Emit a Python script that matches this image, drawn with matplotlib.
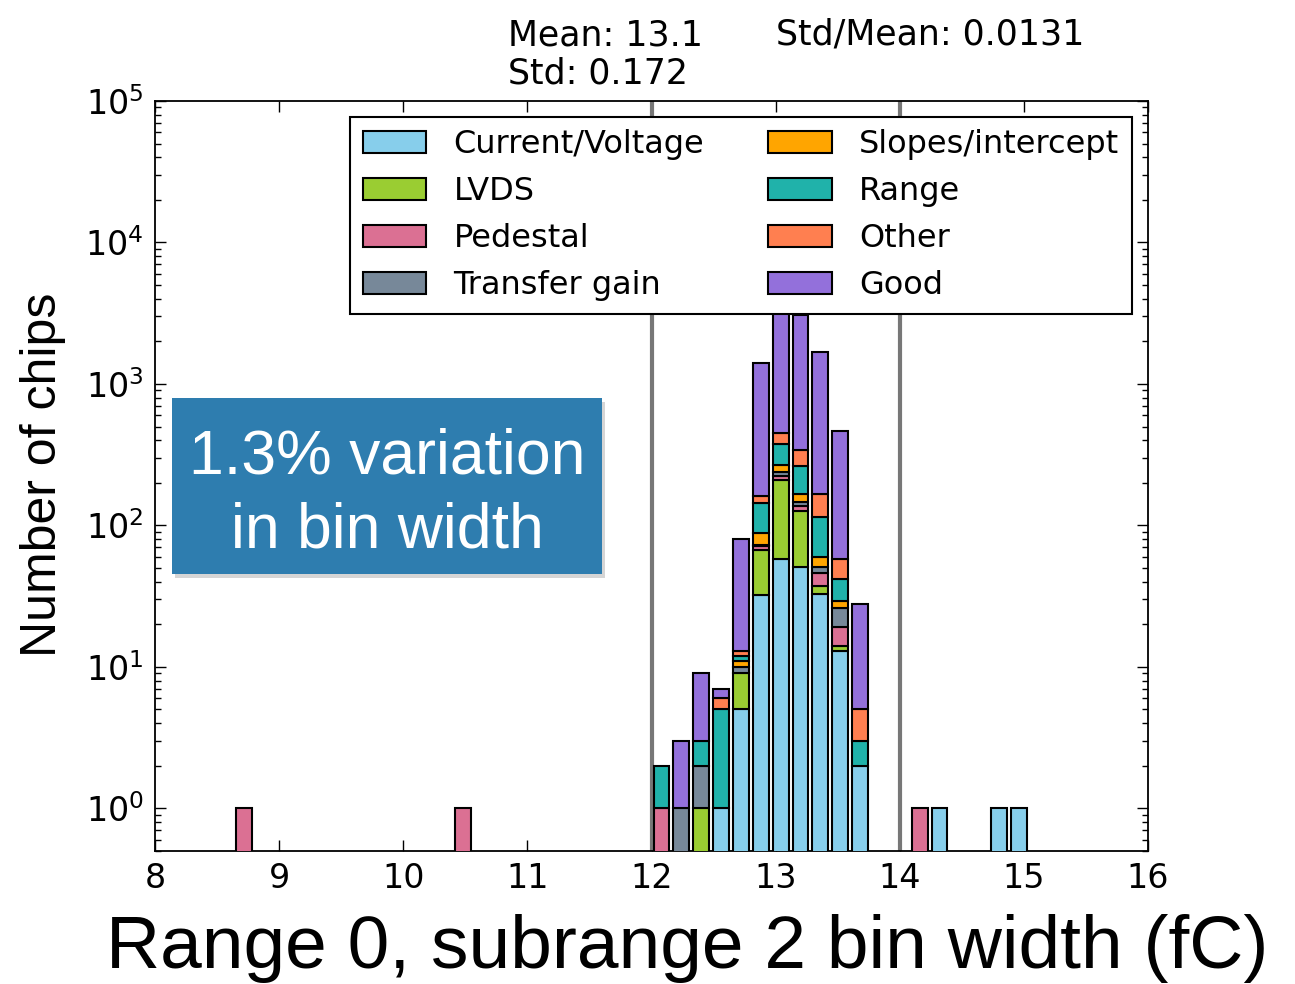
import numpy as np
import matplotlib
matplotlib.use("Agg")
import matplotlib.pyplot as plt
from matplotlib.patches import Rectangle

# left edges of the occupied bins (bin width 0.16 fC, range 8-16)
bin_left = [8.64, 10.40, 12.00, 12.16, 12.32, 12.48, 12.64, 12.80, 12.96,
            13.12, 13.28, 13.44, 13.60, 14.08, 14.24, 14.72, 14.88]
bin_width = 0.16

current_voltage = [0, 0, 0, 0, 0, 1, 5, 32, 58, 51, 33, 13, 2, 0, 1, 1, 1]
lvds            = [0, 0, 0, 0, 1, 0, 4, 35, 152, 75, 4, 1, 0, 0, 0, 0, 0]
pedestal        = [1, 1, 1, 0, 0, 0, 0, 4, 15, 12, 9, 5, 0, 1, 0, 0, 0]
transfer_gain   = [0, 0, 0, 1, 1, 0, 1, 2, 12, 8, 5, 7, 0, 0, 0, 0, 0]
slopes          = [0, 0, 0, 0, 0, 0, 1, 15, 29, 21, 9, 3, 0, 0, 0, 0, 0]
range_fail      = [0, 0, 1, 0, 1, 4, 1, 56, 112, 94, 55, 13, 1, 0, 0, 0, 0]
other           = [0, 0, 0, 0, 0, 1, 1, 17, 72, 82, 51, 16, 2, 0, 0, 0, 0]
good            = [0, 0, 0, 2, 6, 1, 67, 1243, 3350, 2737, 1504, 409, 23, 0, 0, 0, 0]

labels = ["Current/Voltage", "LVDS", "Pedestal", "Transfer gain",
          "Slopes/intercept", "Range", "Other", "Good"]
colors = ["skyblue", "yellowgreen", "palevioletred", "lightslategray",
          "orange", "lightseagreen", "coral", "mediumpurple"]
series = [current_voltage, lvds, pedestal, transfer_gain, slopes, range_fail, other, good]

mean, std = 13.1, 0.172
cut_lo, cut_hi = 12.0, 14.0

plt.rcParams['font.family'] = ['DejaVu Sans']
plt.rcParams['mathtext.fontset'] = 'dejavusans'

fig = plt.figure(figsize=(12.95, 9.84), dpi=100)
ax = fig.add_axes([0.1197, 0.1352, 0.7668, 0.7622])

centers = np.array(bin_left) + bin_width / 2
bottom = np.zeros(len(bin_left))
handles = []
for vals, lab, col in zip(series, labels, colors):
    vals = np.array(vals, dtype=float)
    m = vals > 0
    ax.bar(centers[m], vals[m], width=bin_width * 0.8, bottom=bottom[m],
           color=col, edgecolor='black', linewidth=1.5, zorder=3)
    handles.append(Rectangle((0, 0), 1, 1, facecolor=col, edgecolor='black', linewidth=1.5))
    bottom += vals

ax.axvline(cut_lo, color='#777777', lw=3, zorder=2)
ax.axvline(cut_hi, color='#777777', lw=3, zorder=2)

ax.set_yscale('log')
ax.set_ylim(0.5, 1e5)
ax.set_xlim(8, 16)
ax.set_xticks(range(8, 17))
ax.tick_params(which='both', direction='in', top=True, right=True, labelsize=24, pad=8)
ax.tick_params(which='major', length=8, width=1)
ax.tick_params(which='minor', length=4, width=1)
for s in ax.spines.values():
    s.set_linewidth(1.3)

leg = ax.legend(handles, labels, ncol=2, loc='upper right', bbox_to_anchor=(0.984, 0.979),
                borderaxespad=0, fontsize=23, fancybox=False, framealpha=1, edgecolor='black',
                handlelength=2.0, handleheight=0.7, handletextpad=0.85,
                columnspacing=2.0, labelspacing=0.5, borderpad=0.4)
leg.get_frame().set_linewidth(1.5)
leg.set_zorder(5)

fig.text(508 / 1295, 1 - 45 / 984, "Mean: %.1f" % mean, fontsize=25, va='baseline')
fig.text(776 / 1295, 1 - 45 / 984, "Std/Mean: %.4f" % (std / mean), fontsize=25, va='baseline')
fig.text(508 / 1295, 1 - 84 / 984, "Std: %.3f" % std, fontsize=25, va='baseline')

# axis titles
fig.text(687 / 1295, 1 - 968 / 984, "Range 0, subrange 2 bin width (fC)",
         fontsize=54, family=['Liberation Sans', 'DejaVu Sans'], ha='center', va='baseline')
fig.text(43 / 1295, 1 - 475 / 984, "Number of chips", rotation=90,
         fontsize=36, family=['Liberation Sans', 'DejaVu Sans'], ha='center', va='center')

# annotation box
bx, by, bw, bh = 172 / 1295, 1 - 574 / 984, 430 / 1295, 176 / 984
fig.patches.append(Rectangle((bx + 0.002, by - 0.004), bw, bh, transform=fig.transFigure,
                             facecolor='#888888', alpha=0.35, edgecolor='none', zorder=8))
fig.patches.append(Rectangle((bx, by), bw, bh, transform=fig.transFigure,
                             facecolor='#2E7DAF', edgecolor='none', zorder=9))
fig.text(387 / 1295, 1 - 473 / 984, "1.3% variation", color='white', fontsize=45,
         family=['Liberation Sans', 'DejaVu Sans'], ha='center', va='baseline', zorder=10)
fig.text(387 / 1295, 1 - 548 / 984, "in bin width", color='white', fontsize=45,
         family=['Liberation Sans', 'DejaVu Sans'], ha='center', va='baseline', zorder=10)

fig.savefig("out.png", dpi=100, facecolor='white')
